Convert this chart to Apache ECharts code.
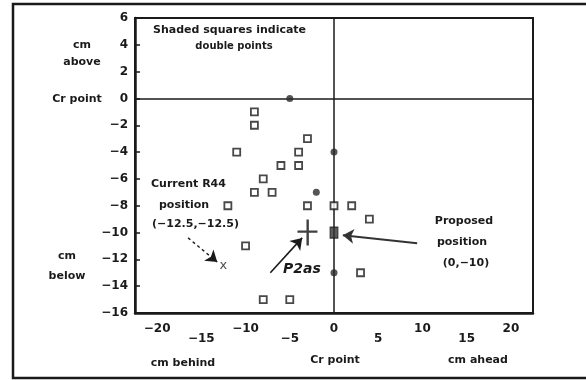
<!DOCTYPE html>
<html>
<head>
<meta charset="utf-8">
<script src="https://cdn.jsdelivr.net/npm/echarts@6/dist/echarts.min.js"></script>
<style>
  html, body { margin: 0; padding: 0; background: #fff; }
  #chart { width: 586px; height: 380px; }
</style>
</head>
<body>
<div id="chart"></div>
<script>
// Positions relative to the Cr point (cm): x = behind/ahead, y = below/above
const singlePoints = [
  [-9, -1], [-9, -2], [-3, -3], [-11, -4], [-4, -4],
  [-6, -5], [-4, -5], [-8, -6], [-9, -7], [-7, -7],
  [-12, -8], [-3, -8], [0, -8], [2, -8], [4, -9],
  [-10, -11], [3, -13], [-8, -15], [-5, -15]
];
const doublePoints = [[-5, 0], [0, -4], [-2, -7], [0, -13]];
const proposedPoint = [[0, -10]];
const currentPoint = [[-12.5, -12.5]];
const p2asPoint = [[-3, -10]];

const xTicks = [-20, -15, -10, -5, 0, 5, 10, 15, 20];
const yMin = -16, yMax = 6, yStep = 2;
const xMin = -22.5, xMax = 22.5;

const INK = '#1a1a1a';
const FONT = 'DejaVu Sans, Verdana, sans-serif';
const minus = v => String(v).replace('-', '\u2212');

const chart = echarts.init(document.getElementById('chart'), null, { renderer: 'canvas' });

function txt(x, y, text, opts) {
  return {
    type: 'text', x: x, y: y, silent: true,
    style: Object.assign({
      text: text, fill: INK, font: 'bold 11px ' + FONT,
      textAlign: 'center', textVerticalAlign: 'middle'
    }, opts || {})
  };
}

const option = {
  animation: false,
  backgroundColor: '#fff',
  grid: {
    left: 135, top: 18, right: 53, bottom: 67,
    show: true, borderColor: INK, borderWidth: 2, backgroundColor: 'transparent'
  },
  xAxis: {
    type: 'value', min: xMin, max: xMax,
    splitLine: { show: false },
    axisLine: { show: true, onZero: false, lineStyle: { color: INK, width: 2.5 } },
    axisTick: { show: false },
    axisLabel: {
      customValues: xTicks,
      margin: 11, color: INK, fontFamily: FONT, fontWeight: 'bold', fontSize: 12, lineHeight: 10,
      formatter: v => (Math.abs(v / 5) % 2 === 1 ? '\n' : '') + minus(v)
    }
  },
  yAxis: {
    type: 'value', min: yMin, max: yMax, interval: yStep,
    splitLine: { show: false },
    axisLine: { show: true, onZero: false, lineStyle: { color: INK, width: 2.5 } },
    axisTick: { show: true, inside: true, length: 5, lineStyle: { color: INK, width: 1.5 } },
    axisLabel: {
      margin: 7, color: INK, fontFamily: FONT, fontWeight: 'bold', fontSize: 12,
      formatter: v => minus(v)
    }
  },
  series: [
    {
      name: 'single', type: 'scatter', data: singlePoints,
      symbol: 'rect', symbolSize: 7,
      itemStyle: { color: '#fff', borderColor: INK, borderWidth: 1.8 },
      markLine: {
        silent: true, symbol: 'none', animation: false,
        label: { show: false },
        lineStyle: { color: INK, width: 1.5, type: 'solid' },
        data: [{ xAxis: 0 }, { yAxis: 0 }]
      },
      z: 5
    },
    {
      name: 'double', type: 'scatter', data: doublePoints,
      symbol: 'circle', symbolSize: 7,
      itemStyle: { color: '#2a2a2a' }, z: 6
    },
    {
      name: 'proposed', type: 'scatter', data: proposedPoint,
      symbol: 'rect', symbolSize: [8, 11],
      itemStyle: { color: '#333', borderColor: INK, borderWidth: 1 }, z: 6
    },
    {
      name: 'current', type: 'scatter', data: currentPoint,
      symbolSize: 1, itemStyle: { color: 'transparent' },
      label: {
        show: true, position: 'inside', formatter: 'x',
        color: INK, fontFamily: FONT, fontSize: 13
      }, z: 6
    },
    {
      name: 'P2as', type: 'scatter', data: p2asPoint,
      symbol: 'path://M9,0h2.4v11h8.6v2.2h-8.6v12.8h-2.4v-12.8h-9v-2.2h9z',
      symbolSize: [20, 26],
      itemStyle: { color: '#111' }, z: 6,
      markLine: {
        silent: true, animation: false,
        label: { show: false },
        symbol: ['none', 'arrow'], symbolSize: 11,
        data: [
          [
            { coord: [-7.2, -13.0], lineStyle: { color: INK, width: 1.6, type: 'solid' } },
            { coord: [-3.6, -10.4] }
          ],
          [
            { coord: [9.4, -10.8], lineStyle: { color: '#333', width: 2.2, type: 'solid' } },
            { coord: [1.0, -10.2] }
          ],
          [
            { coord: [-16.5, -10.4], lineStyle: { color: INK, width: 1.4, type: [3, 3] } },
            { coord: [-13.2, -12.2] }
          ]
        ]
      }
    }
  ],
  graphic: [
    {
      type: 'rect', silent: true, z: 100,
      shape: { x: 13, y: 4, width: 620, height: 374 },
      style: { fill: 'none', stroke: INK, lineWidth: 2.5 }
    },
    txt(153, 30, 'Shaded squares indicate', { textAlign: 'left' }),
    txt(234, 46, 'double points', { font: 'bold 10px ' + FONT }),
    txt(82, 45, 'cm'),
    txt(82, 62, 'above'),
    txt(77, 99, 'Cr point'),
    txt(67, 256, 'cm'),
    txt(67, 276, 'below'),
    txt(183, 363, 'cm behind'),
    txt(335, 360, 'Cr point'),
    txt(478, 360, 'cm ahead'),
    txt(151, 184, 'Current R44', { textAlign: 'left' }),
    txt(159, 205, 'position', { textAlign: 'left' }),
    txt(152, 224, '(\u221212.5,\u221212.5)', { textAlign: 'left' }),
    txt(464, 221, 'Proposed'),
    txt(462, 242, 'position'),
    txt(466, 263, '(0,\u221210)'),
    txt(283, 269, 'P2as', { textAlign: 'left', font: 'italic bold 14px DejaVu Sans, sans-serif' })
  ]
};

chart.setOption(option);
</script>
</body>
</html>
